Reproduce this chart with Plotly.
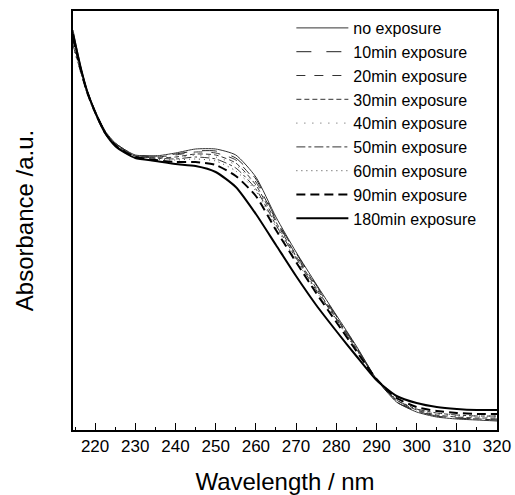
import plotly.graph_objects as go

wavelength = [214.5, 216.5, 218, 220, 222.5, 225, 227.5, 230,
              235, 240, 245, 250, 255, 260, 265, 270, 275, 280, 285,
              290, 295, 300, 305, 310, 315, 320]

no_exposure = [4.00, 3.62, 3.40, 3.19, 2.99, 2.87, 2.80, 2.75,
               2.74, 2.77, 2.81, 2.81, 2.75, 2.53, 2.13, 1.78, 1.46, 1.15, 0.84,
               0.51, 0.28, 0.18, 0.13, 0.11, 0.10, 0.09]
min10 = [3.97, 3.61, 3.39, 3.19, 2.99, 2.87, 2.80, 2.75,
         2.74, 2.76, 2.79, 2.79, 2.72, 2.51, 2.11, 1.77, 1.45, 1.14, 0.83,
         0.51, 0.28, 0.19, 0.14, 0.12, 0.11, 0.10]
min20 = [3.93, 3.60, 3.39, 3.18, 2.98, 2.86, 2.79, 2.75,
         2.73, 2.75, 2.78, 2.77, 2.70, 2.48, 2.10, 1.75, 1.44, 1.13, 0.83,
         0.51, 0.29, 0.19, 0.14, 0.12, 0.11, 0.11]
min30 = [3.90, 3.59, 3.38, 3.18, 2.98, 2.86, 2.79, 2.74,
         2.72, 2.73, 2.76, 2.75, 2.67, 2.45, 2.08, 1.74, 1.42, 1.12, 0.82,
         0.51, 0.30, 0.20, 0.15, 0.13, 0.12, 0.12]
min40 = [3.87, 3.58, 3.37, 3.17, 2.97, 2.85, 2.79, 2.74,
         2.72, 2.72, 2.75, 2.73, 2.65, 2.43, 2.06, 1.73, 1.42, 1.11, 0.82,
         0.51, 0.30, 0.20, 0.16, 0.14, 0.13, 0.13]
min50 = [3.85, 3.57, 3.37, 3.17, 2.97, 2.85, 2.78, 2.74,
         2.72, 2.71, 2.73, 2.71, 2.62, 2.41, 2.05, 1.72, 1.40, 1.11, 0.81,
         0.51, 0.30, 0.21, 0.17, 0.15, 0.14, 0.14]
min60 = [3.83, 3.56, 3.36, 3.16, 2.96, 2.85, 2.78, 2.74,
         2.71, 2.70, 2.71, 2.69, 2.59, 2.39, 2.03, 1.70, 1.39, 1.10, 0.80,
         0.51, 0.31, 0.21, 0.17, 0.15, 0.14, 0.14]
min90 = [3.92, 3.59, 3.38, 3.18, 2.97, 2.85, 2.78, 2.73,
         2.70, 2.68, 2.68, 2.65, 2.54, 2.34, 2.00, 1.68, 1.37, 1.08, 0.79,
         0.51, 0.32, 0.23, 0.19, 0.17, 0.16, 0.16]
min180 = [3.96, 3.61, 3.39, 3.18, 2.97, 2.84, 2.77, 2.72,
          2.69, 2.66, 2.64, 2.58, 2.43, 2.16, 1.85, 1.54, 1.25, 0.99, 0.74,
          0.50, 0.34, 0.27, 0.23, 0.21, 0.20, 0.20]

series_names = ["no exposure", "10min exposure", "20min exposure", "30min exposure",
                "40min exposure", "50min exposure", "60min exposure", "90min exposure",
                "180min exposure"]
series_values = [no_exposure, min10, min20, min30, min40, min50, min60, min90, min180]
x_ticks = [220, 230, 240, 250, 260, 270, 280, 290, 300, 310, 320]

styles = [
    dict(color="#333333", width=1, dash="solid"),
    dict(color="#222222", width=1, dash="longdash"),
    dict(color="#333333", width=1, dash="dash"),
    dict(color="#333333", width=1, dash="5px,3px"),
    dict(color="#555555", width=1, dash="1px,7px"),
    dict(color="#333333", width=1, dash="dashdot"),
    dict(color="#444444", width=1, dash="1px,4px"),
    dict(color="#000000", width=2, dash="9px,5px"),
    dict(color="#000000", width=2, dash="solid"),
]

fig = go.Figure()
for name, vals, st in zip(series_names, series_values, styles):
    fig.add_trace(go.Scatter(x=wavelength, y=vals, mode="lines", name=name,
                             line=dict(shape="spline", smoothing=0.6, **st)))

font = "Liberation Sans, Arial, sans-serif"
fig.update_layout(
    width=515, height=495,
    margin=dict(l=73, r=18, t=11, b=65),
    paper_bgcolor="white", plot_bgcolor="white",
    font=dict(family=font, color="black"),
    showlegend=True,
    legend=dict(x=0.515, y=1.0, xanchor="left", yanchor="top",
                itemwidth=52, bgcolor="rgba(0,0,0,0)", font=dict(size=16, family=font),
                tracegroupgap=0, borderwidth=0),
    xaxis=dict(range=[214.5, 320], tickmode="array", tickvals=x_ticks,
               ticks="inside", ticklen=7, tickwidth=1, tickcolor="black",
               minor=dict(ticks="inside", ticklen=3, dtick=5, tickcolor="black"),
               showline=True, linecolor="black", linewidth=1.5, mirror=True,
               showgrid=False, zeroline=False, automargin=False,
               tickfont=dict(size=17),
               title=dict(text="Wavelength / nm", font=dict(size=24), standoff=19)),
    yaxis=dict(range=[0, 4.19], showticklabels=False, ticks="",
               showline=True, linecolor="black", linewidth=1.5, mirror=True,
               showgrid=False, zeroline=False, automargin=False,
               title=dict(text="Absorbance /a.u.", font=dict(size=24), standoff=31)),
)

fig.write_html("out.html", config={"displayModeBar": False},
               post_script="document.body.style.margin='0';")
